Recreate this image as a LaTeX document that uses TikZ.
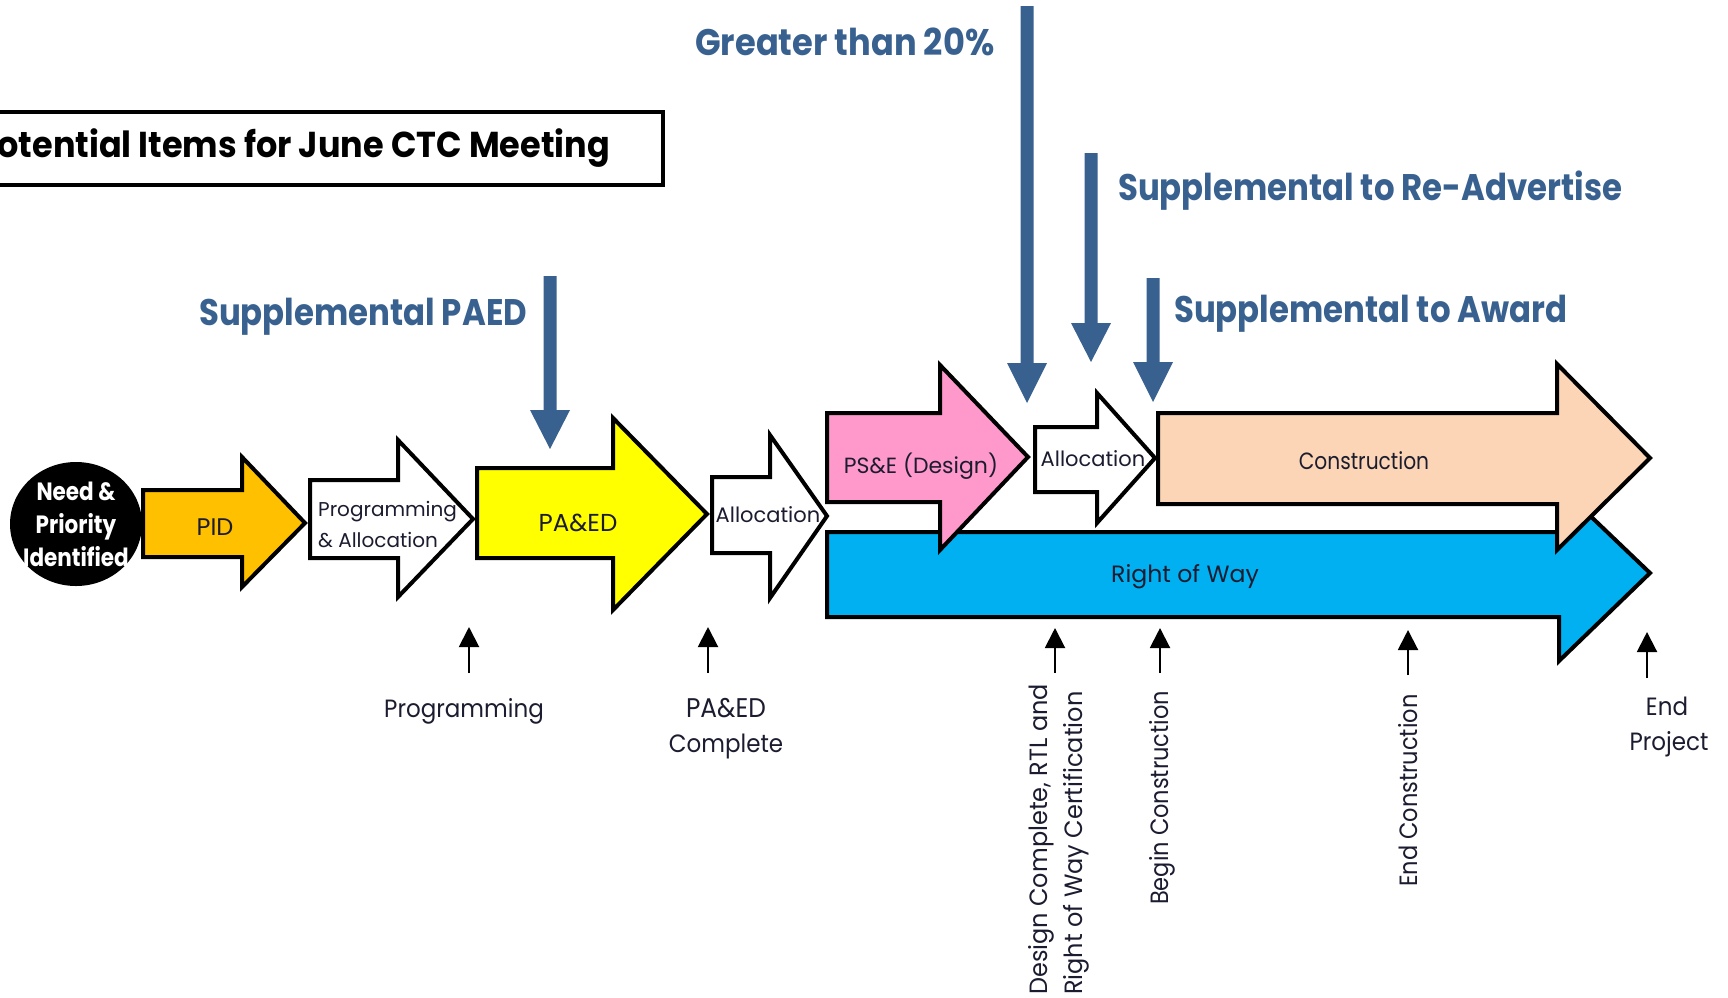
\documentclass[tikz,border=0pt]{standalone}
\usepackage{fontspec}
\setmainfont{Poppins}
\newfontfamily\nfont{Poppins}[FakeStretch=0.86]
\newfontfamily\wfont{Poppins}
\newfontfamily\hfont{Poppins}[FakeStretch=0.875]
\newfontfamily\gfont{Poppins}[FakeStretch=0.91]
\newfontfamily\tfont{Poppins}[FakeStretch=0.93]
\newfontfamily\mfont{Poppins}[FakeStretch=0.92]
\newfontfamily\rfont{Poppins}[FakeStretch=0.9]
\newfontfamily\dfont{Poppins}[FakeStretch=0.96]
\usetikzlibrary{arrows.meta}
\definecolor{pidorange}{HTML}{FFC000}
\definecolor{paedyellow}{HTML}{FFFF00}
\definecolor{pspink}{HTML}{FF99CC}
\definecolor{conpeach}{HTML}{FBD5B5}
\definecolor{rowblue}{HTML}{00B0F0}
\definecolor{hblue}{HTML}{386190}
\definecolor{txtc}{HTML}{1C1C30}
\newcommand\blockarr[9]{%
  \filldraw[blk, fill=#1] (#2,#3) -- (#5,#3) -- (#5,#6) -- (#8,#9) -- (#5,#7) -- (#5,#4) -- (#2,#4) -- cycle;}
\newcommand\downarr[4]{%
  \fill[hblue] (#1-6.5,#2) -- (#1+6.5,#2) -- (#1+6.5,#3) -- (#1+20,#3) -- (#1,#4) -- (#1-20,#3) -- (#1-6.5,#3) -- cycle;}
\begin{document}
\begin{tikzpicture}[x=1pt,y=-1pt,
  blk/.style={draw=black, line width=4pt, line join=miter},
  lbl/.style={inner sep=0pt, text=txtc},
  blbl/.style={inner sep=0pt, text=txtc, font=\mfont\fontsize{25}{30}\selectfont},
  rlbl/.style={inner sep=0pt, text=txtc, rotate=90, anchor=base west, font=\rfont\fontsize{25}{30}\selectfont},
  head/.style={inner sep=0pt, text=hblue, anchor=base west, font=\hfont\bfseries\fontsize{37}{40}\selectfont},
  smallarr/.style={-{Triangle[width=20pt,length=20pt]}, line width=2pt}]
\useasboundingbox (0,0) rectangle (1728,997);
\clip (0,0) rectangle (1728,997);

% title box
\draw[line width=3.5pt] (-10,112) rectangle (663,185);
\node[inner sep=0pt, anchor=base east, font=\tfont\bfseries\fontsize{36}{40}\selectfont] (title) at (610,157) {Potential Items for June CTC Meeting};

% headings
\node[head, font=\gfont\bfseries\fontsize{37}{40}\selectfont] (h20) at (695,55) {Greater than 20\%};
\node[head] (hre) at (1118,200) {Supplemental to Re-Advertise};
\node[head] (haw) at (1174,322) {Supplemental to Award};
\node[head] (hpa) at (199,325) {Supplemental PAED};

% blue pointer arrows
\downarr{1027}{6}{363}{403}
\downarr{1091}{153}{323}{362}
\downarr{1153}{278}{362}{402}
\downarr{550}{276}{410}{449}

% start circle
\fill[black] (76,524) ellipse [x radius=66, y radius=62];
\node[inner sep=0pt, text=white, align=center, font=\nfont\bfseries\fontsize{25}{33}\selectfont] (need) at (76,524) {Need \&\\Priority\\Identified};

% block arrows
\blockarr{pidorange}{143}{490}{557}{242}{457}{587}{305}{523}
\blockarr{white}{310}{480}{558}{398}{440}{597}{473}{519}
\blockarr{paedyellow}{477}{468}{558}{613}{418}{610}{707}{514}
\blockarr{white}{712}{477}{553}{770}{435}{598}{827}{516}
\blockarr{rowblue}{827}{532}{617}{1559}{486}{661}{1650}{573}
\blockarr{pspink}{827}{413}{502}{940}{365}{550}{1028}{457}
\blockarr{white}{1035}{427}{492}{1097}{393}{523}{1155}{458}
\blockarr{conpeach}{1158}{413}{504}{1557}{364}{550}{1650}{458}

% labels in arrows
\node[lbl, font=\wfont\fontsize{24}{28}\selectfont] (pid) at (215,527) {PID};
\node[lbl, align=left, anchor=west, font=\wfont\fontsize{20}{31}\selectfont] (proga) at (318,524) {Programming\\\& Allocation};
\node[lbl, font=\wfont\fontsize{24.5}{28}\selectfont] (paed) at (578,523) {PA\&ED};
\node[lbl, font=\wfont\fontsize{21}{25}\selectfont] (alloc1) at (768,515) {Allocation};
\node[lbl, font=\wfont\fontsize{22}{26}\selectfont] (pse) at (921,466) {PS\&E (Design)};
\node[lbl, font=\wfont\fontsize{21}{25}\selectfont] (alloc2) at (1093,459) {Allocation};
\node[lbl, font=\nfont\fontsize{23.5}{28}\selectfont] (cons) at (1364,461) {Construction};
\node[lbl, font=\wfont\fontsize{23.6}{28}\selectfont] (row) at (1185,577) {Right of Way};

% milestone arrows
\coordinate (m1b) at (469,673); \coordinate (m1t) at (469,627);
\coordinate (m2b) at (708,673); \coordinate (m2t) at (708,627);
\coordinate (m3b) at (1055,673); \coordinate (m3t) at (1055,628);
\coordinate (m4b) at (1160,673); \coordinate (m4t) at (1160,628);
\coordinate (m5b) at (1408,675); \coordinate (m5t) at (1408,630);
\coordinate (m6b) at (1647,678); \coordinate (m6t) at (1647,632);
\foreach \i in {1,...,6} {\draw[smallarr] (m\i b) -- (m\i t);}

% milestone labels
\node[blbl, anchor=base] (lprog) at (464,717) {Programming};
\node[blbl, anchor=base, font=\mfont\fontsize{27}{30}\selectfont] (lpa1) at (726,717) {PA\&ED};
\node[blbl, anchor=base] (lpa2) at (726,752) {Complete};
\node[blbl, anchor=base] (lend1) at (1667,715) {End};
\node[blbl, anchor=base] (lend2) at (1669,750) {Project};
\node[rlbl, font=\dfont\fontsize{25}{30}\selectfont] (ldc1) at (1047,995) {Design Complete, RTL and};
\node[rlbl, font=\dfont\fontsize{25}{30}\selectfont] (ldc2) at (1082,995) {Right of Way Certification};
\node[rlbl] (lbc) at (1168,905) {Begin Construction};
\node[rlbl] (lec) at (1417,887) {End Construction};
\end{tikzpicture}
\end{document}
